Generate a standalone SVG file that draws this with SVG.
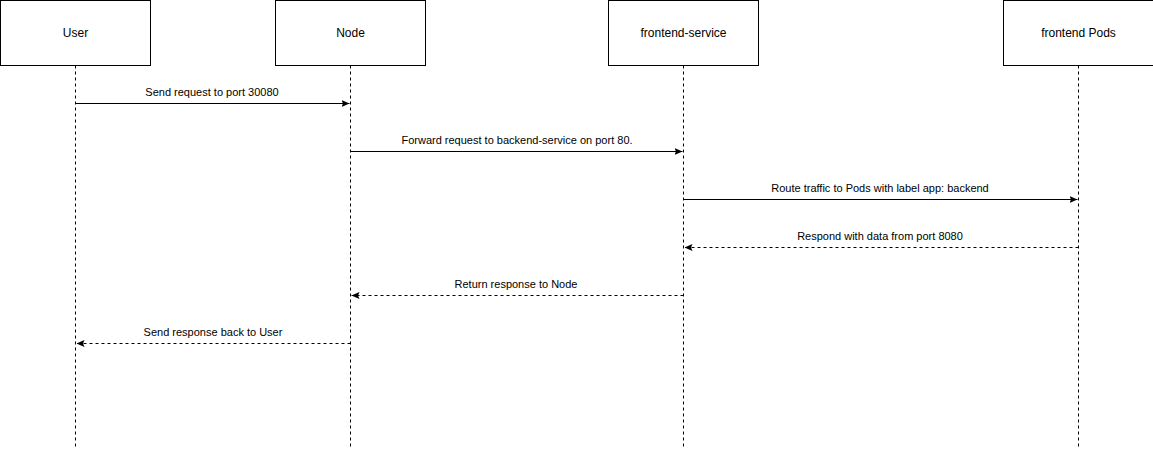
<svg xmlns="http://www.w3.org/2000/svg" width="1153" height="449" viewBox="0 0 1153 449">
<style>
.box{fill:#fff;stroke:#000;stroke-width:1}
.life{stroke:#000;stroke-width:1;stroke-dasharray:3 3;fill:none}
.msg{stroke:#000;stroke-width:1;fill:none}
.ret{stroke:#000;stroke-width:1;fill:none;stroke-dasharray:3 3}
.t{font-family:"Liberation Sans",Arial,sans-serif;font-size:12px;fill:#000;text-anchor:middle}
.l{font-family:"Liberation Sans",Arial,sans-serif;font-size:11px;fill:#000;text-anchor:middle}
</style>
<defs>
<marker id="ah" viewBox="0 0 8 8" refX="8" refY="4" markerWidth="8" markerHeight="8" markerUnits="userSpaceOnUse" orient="auto">
<path d="M0,0.5 L8,4 L0,7.5 L1.5,4 Z" fill="#000"/>
</marker>
</defs>
<g id="lifelines">
<line class="life" x1="75.5" y1="65.5" x2="75.5" y2="447"/>
<line class="life" x1="350.5" y1="65.5" x2="350.5" y2="447"/>
<line class="life" x1="683.5" y1="65.5" x2="683.5" y2="447"/>
<line class="life" x1="1078.5" y1="65.5" x2="1078.5" y2="447"/>
</g>
<g id="user"><rect class="box" x="0.5" y="0.5" width="150" height="65"/><text class="t" x="75.5" y="37">User</text></g>
<g id="node"><rect class="box" x="275.5" y="0.5" width="150" height="65"/><text class="t" x="350.5" y="37">Node</text></g>
<g id="frontend-service"><rect class="box" x="608.5" y="0.5" width="150" height="65"/><text class="t" x="683.5" y="37">frontend-service</text></g>
<g id="frontend-pods"><rect class="box" x="1003.5" y="0.5" width="150" height="65"/><text class="t" x="1078.5" y="37">frontend Pods</text></g>
<g id="connectors">
<line class="msg" x1="75.5" y1="103.5" x2="349.5" y2="103.5" marker-end="url(#ah)"/>
<text class="l" x="212" y="96">Send request to port 30080</text>
<line class="msg" x1="350.5" y1="151.5" x2="682.5" y2="151.5" marker-end="url(#ah)"/>
<text class="l" x="517" y="144">Forward request to backend-service on port 80.</text>
<line class="msg" x1="683.5" y1="199.5" x2="1077.5" y2="199.5" marker-end="url(#ah)"/>
<text class="l" x="880" y="192">Route traffic to Pods with label app: backend</text>
<line class="ret" x1="1078.5" y1="247.5" x2="684.5" y2="247.5" marker-end="url(#ah)"/>
<text class="l" x="880" y="240">Respond with data from port 8080</text>
<line class="ret" x1="683.5" y1="295.5" x2="351.5" y2="295.5" marker-end="url(#ah)"/>
<text class="l" x="516" y="288">Return response to Node</text>
<line class="ret" x1="350.5" y1="343.5" x2="76.5" y2="343.5" marker-end="url(#ah)"/>
<text class="l" x="213" y="336">Send response back to User</text>
</g>
</svg>
